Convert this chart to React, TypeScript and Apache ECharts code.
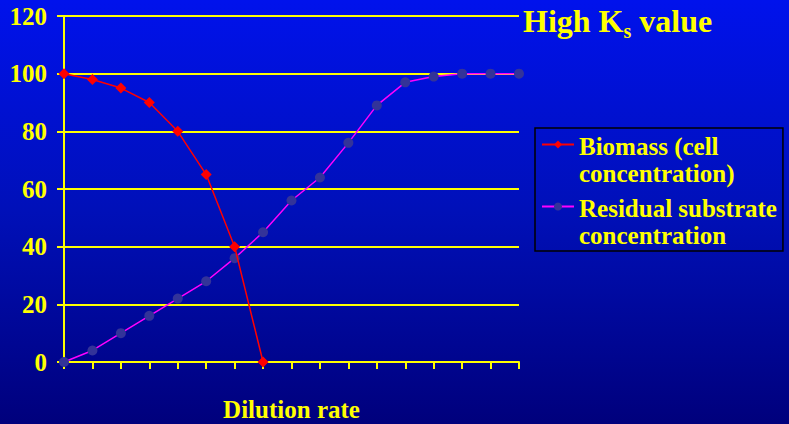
import React, { useEffect, useRef } from "react";
import * as echarts from "echarts";

// Dilution-rate steps along the x axis (no tick labels are printed)
const dilutionSteps = ["0", "1", "2", "3", "4", "5", "6", "7", "8", "9", "10", "11", "12", "13", "14", "15", "16"];

// Biomass (cell concentration) — washes out after step 7
const biomass = [100, 98, 95, 90, 80, 65, 40, 0];

// Residual substrate concentration
const residualSubstrate = [0, 4, 10, 16, 22, 28, 36, 45, 56, 64, 76, 89, 97, 99, 100, 100, 100];

const yTicks = { min: 0, max: 120, interval: 20 };

const legendLines: Record<string, [string, string]> = {
  "Biomass (cell concentration)": ["Biomass (cell", "concentration)"],
  "Residual substrate concentration": ["Residual substrate", "concentration"],
};

const YELLOW = "#FFFF00";
const SERIF = "'Liberation Serif', 'Times New Roman', serif";
const LEGEND_LINE = 29;

export default function App() {
  const ref = useRef<HTMLDivElement>(null);

  useEffect(() => {
    if (!ref.current) return;
    const chart = echarts.init(ref.current, null, { renderer: "svg" });
    const legendText = {
      fontFamily: SERIF,
      fontWeight: "bold" as const,
      fontSize: 25,
      color: YELLOW,
      lineHeight: LEGEND_LINE,
    };
    chart.setOption({
      animation: false,
      backgroundColor: {
        type: "linear",
        x: 0,
        y: 0,
        x2: 0,
        y2: 1,
        colorStops: [
          { offset: 0, color: "#0012EC" },
          { offset: 0.5, color: "#0010B8" },
          { offset: 1, color: "#00007C" },
        ],
      },
      title: {
        text: "{a|High K}{s|s}{a| value}",
        left: 518,
        top: 0,
        textStyle: {
          rich: {
            a: {
              fontFamily: SERIF,
              fontWeight: "bold",
              fontSize: 32,
              color: YELLOW,
              lineHeight: 36,
              verticalAlign: "top",
            },
            // subscript "s": smaller, its top padding drops it below the baseline
            s: {
              fontFamily: SERIF,
              fontWeight: "bold",
              fontSize: 20,
              color: YELLOW,
              lineHeight: 20,
              verticalAlign: "bottom",
              padding: [23, 0, 0, 0],
            },
          },
        },
      },
      legend: {
        orient: "vertical",
        left: 535,
        top: 128,
        // The spacer line below pushes each item's box up by one line;
        // the negative padding and gap take that back out.
        padding: [-27, 6, 1, 6],
        itemGap: -25,
        itemWidth: 32,
        itemHeight: 10,
        borderColor: "#000000",
        borderWidth: 1.5,
        backgroundColor: "transparent",
        // The first line of each two-line label sits level with the legend icon:
        // a zero-width spacer doubles the first line's height and the label
        // token hugs its bottom.
        formatter: (name: string) => {
          const [first, second] = legendLines[name];
          return `{sp|}{t1|${first}}\n{t2|${second}}`;
        },
        textStyle: {
          ...legendText,
          rich: {
            sp: { width: 0, fontSize: 1, lineHeight: LEGEND_LINE * 2 },
            t1: { ...legendText, verticalAlign: "bottom" },
            t2: { ...legendText },
          },
        },
      },
      grid: { left: 64, right: 270, top: 16, bottom: 62, outerBoundsMode: "none" },
      xAxis: {
        type: "category",
        data: dilutionSteps,
        boundaryGap: false,
        name: "Dilution rate",
        nameLocation: "middle",
        nameGap: 35,
        nameTextStyle: { fontFamily: SERIF, fontWeight: "bold", fontSize: 25, color: YELLOW },
        axisLine: { lineStyle: { color: YELLOW, width: 2 } },
        axisTick: { show: true, interval: 0, length: 7, lineStyle: { color: YELLOW, width: 2 } },
        axisLabel: { show: false },
        splitLine: { show: false },
      },
      yAxis: {
        type: "value",
        min: yTicks.min,
        max: yTicks.max,
        interval: yTicks.interval,
        axisLine: { show: true, lineStyle: { color: YELLOW, width: 2 } },
        axisTick: { show: true, length: 7, lineStyle: { color: YELLOW, width: 2 } },
        axisLabel: {
          margin: 17,
          fontFamily: SERIF,
          fontWeight: "bold",
          fontSize: 25,
          color: YELLOW,
        },
        splitLine: { show: true, lineStyle: { color: YELLOW, width: 2 } },
      },
      series: [
        {
          name: "Biomass (cell concentration)",
          type: "line",
          data: biomass,
          symbol: "diamond",
          symbolSize: 11,
          lineStyle: { color: "#FF0000", width: 1.5 },
          itemStyle: { color: "#FF0000" },
          z: 3,
        },
        {
          name: "Residual substrate concentration",
          type: "line",
          data: residualSubstrate,
          symbol: "circle",
          symbolSize: 10,
          lineStyle: { color: "#FF00FF", width: 1.5 },
          itemStyle: { color: "#333399" },
          z: 2,
        },
      ],
    });
    return () => chart.dispose();
  }, []);

  return (
    <div
      ref={ref}
      style={{ position: "absolute", left: 0, top: 0, width: 789, height: 424 }}
    />
  );
}
